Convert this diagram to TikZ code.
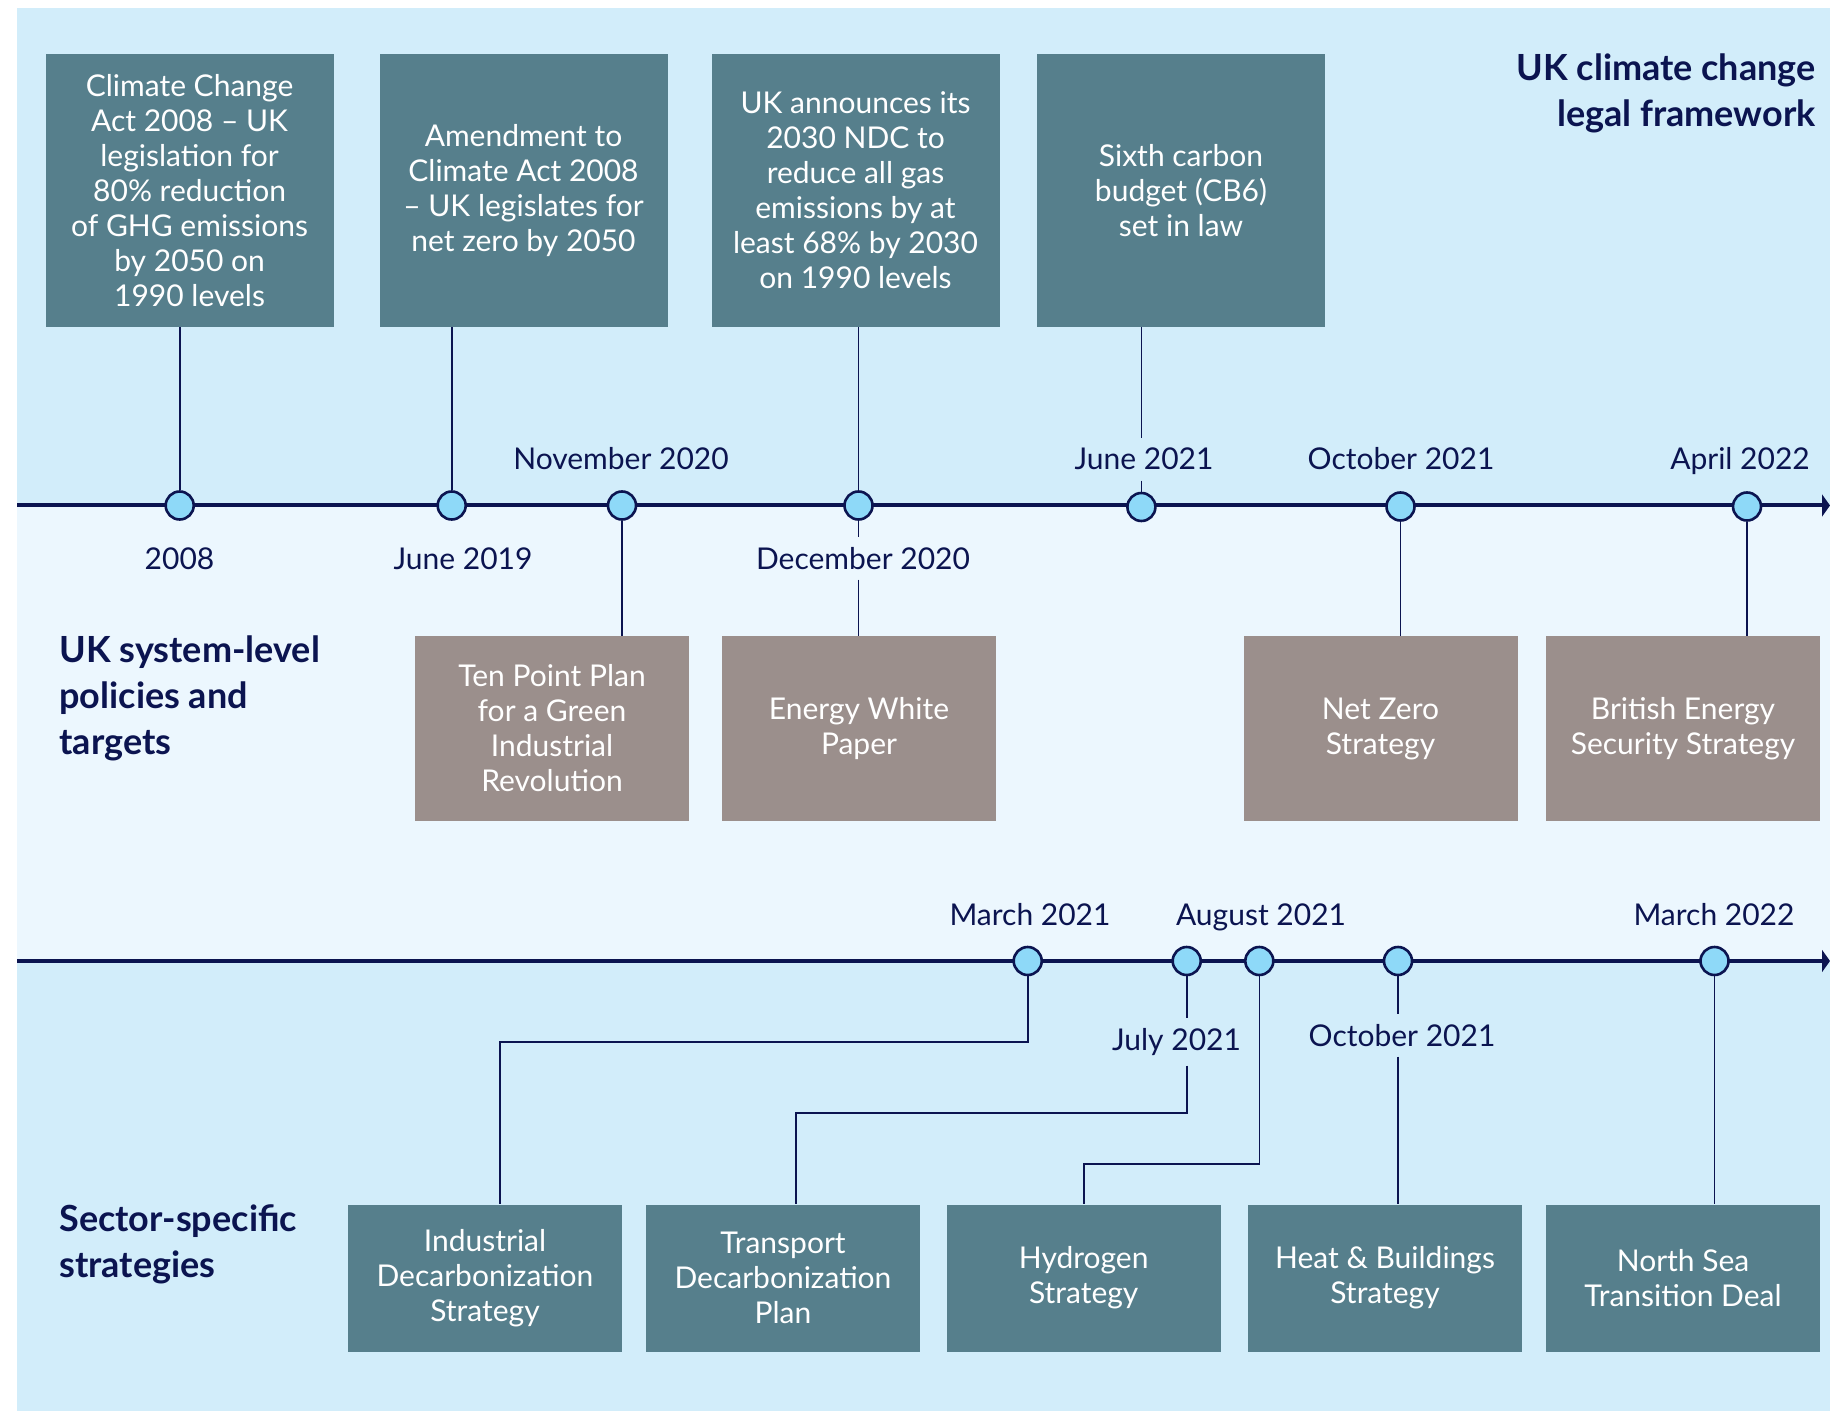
\documentclass[tikz,border=0pt]{standalone}
\usepackage{fontspec}
\setmainfont{Lato}
\usetikzlibrary{arrows.meta}
\definecolor{bandBlue}{RGB}{210,237,250}
\definecolor{bandPale}{RGB}{236,247,254}
\definecolor{navy}{RGB}{11,20,80}
\definecolor{dotFill}{RGB}{142,217,248}
\definecolor{tealBox}{RGB}{86,127,140}
\definecolor{greyBox}{RGB}{155,143,140}
\newcommand{\fs}[2]{\fontsize{#1}{#2}\selectfont}

\begin{document}
\begin{tikzpicture}[x=0.5pt,y=-0.5pt,
  law/.style ={fill=tealBox,text=white,align=center,inner sep=4pt,minimum width=144pt,minimum height=136.5pt,font=\fs{15}{17.5}},
  pol/.style ={fill=greyBox,text=white,align=center,inner sep=4pt,minimum width=137pt,minimum height=92.5pt,font=\fs{15}{17.5}},
  sec/.style ={fill=tealBox,text=white,align=center,inner sep=4pt,minimum width=137pt,minimum height=73.5pt,font=\fs{15}{17.5}},
  dot/.style ={circle,draw=navy,fill=dotFill,line width=1.3pt,minimum size=14pt,inner sep=0pt},
  date/.style={text=navy,inner sep=5pt,anchor=base,font=\fs{15}{18}},
  head/.style={text=navy,inner sep=0pt,font=\bfseries\fs{18}{23}},
  axis/.style={line width=2pt,navy,-{Triangle[length=4pt,width=11pt]}},
  stem/.style={line width=0.8pt,navy}]
\useasboundingbox (0,0) rectangle (1830,1411);
\fill[bandBlue] (17,8) rectangle (1830,505.5);
\fill[bandPale] (17,505.5) rectangle (1830,961);
\fill[bandBlue] (17,961) rectangle (1830,1411);

\node[head,align=right,anchor=east] (ttl) at (1816,93) {UK climate change\\legal framework};
\node[head,align=left,anchor=west] (sys) at (59,698) {UK system-level\\policies and\\targets};
\node[head,align=left,anchor=west] (sect) at (59,1244) {Sector-specific\\strategies};

\node[law] (cca) at (189.6,190.3) {Climate Change\\Act 2008 \textendash{} UK\\legislation for\\80\% reduction\\of GHG emissions\\by 2050 on\\1990 levels};
\node[law] (amd) at (523.5,190.3) {Amendment to\\Climate Act 2008\\\textendash{} UK legislates for\\net zero by 2050};
\node[law] (ndc) at (855.5,190.3) {UK announces its\\2030 NDC to\\reduce all gas\\emissions by at\\least 68\% by 2030\\on 1990 levels};
\node[law] (cb6) at (1181,190.3) {Sixth carbon\\budget (CB6)\\set in law};

\node[pol] (tpp) at (552,728.5) {Ten Point Plan\\for a Green\\Industrial\\Revolution};
\node[pol] (ewp) at (859,728.5) {Energy White\\Paper};
\node[pol] (nzs) at (1380.5,728.5) {Net Zero\\Strategy};
\node[pol] (bess) at (1683,728.5) {British Energy\\Security Strategy};

\node[sec] (ids) at (485,1278) {Industrial\\Decarbonization\\Strategy};
\node[sec] (tdp) at (783,1278) {Transport\\Decarbonization\\Plan};
\node[sec] (hyd) at (1083.7,1278) {Hydrogen\\Strategy};
\node[sec] (hbs) at (1385,1278) {Heat \& Buildings\\Strategy};
\node[sec] (nst) at (1683,1278) {North Sea\\Transition Deal};

\coordinate (upA) at (17,505.5);   \coordinate (upB) at (1830,505.5);
\coordinate (loA) at (17,961);     \coordinate (loB) at (1830,961);
\draw[axis] (upA) -- (upB);
\draw[axis] (loA) -- (loB);

\node[dot] (d2008) at (179.7,505.5) {};
\node[dot] (djun19) at (451.7,505.5) {};
\node[dot] (dnov20) at (622,505.5) {};
\node[dot] (ddec20) at (858.5,505.5) {};
\node[dot] (djun21) at (1141.4,507) {};
\node[dot] (doct21) at (1400.5,506.5) {};
\node[dot] (dapr22) at (1747,506.5) {};
\node[dot] (dmar21) at (1027.7,961) {};
\node[dot] (djul21) at (1186.7,961) {};
\node[dot] (daug21) at (1259.3,961) {};
\node[dot] (doct21b) at (1398,961) {};
\node[dot] (dmar22) at (1714.5,961) {};

\node[date] (l2008) at (179.5,569) {2008};
\node[date] (ljun19) at (463,569) {June 2019};
\node[date] (lnov20) at (621,470) {November 2020};
\node[date] (ldec20) at (863,569) {December 2020};
\node[date] (ljun21) at (1144,470) {June 2021};
\node[date] (loct21) at (1401,470) {October 2021};
\node[date] (lapr22) at (1740,470) {April 2022};
\node[date] (lmar21) at (1030,925) {March 2021};
\node[date] (ljul21) at (1176.5,1050) {July 2021};
\node[date] (laug21) at (1261,925) {August 2021};
\node[date] (loct21b) at (1402,1046) {October 2021};
\node[date] (lmar22) at (1714,925) {March 2022};

\draw[stem] (cca.south -| d2008) -- (d2008);
\draw[stem] (amd.south -| djun19) -- (djun19);
\draw[stem] (ndc.south -| ddec20) -- (ddec20);
\draw[stem] (cb6.south -| djun21) -- (djun21 |- ljun21.north);
\draw[stem] (djun21 |- ljun21.south) -- (djun21);
\draw[stem] (dnov20) -- (tpp.north -| dnov20);
\draw[stem] (ddec20) -- (ddec20 |- ldec20.north);
\draw[stem] (ddec20 |- ldec20.south) -- (ewp.north -| ddec20);
\draw[stem] (doct21) -- (nzs.north -| doct21);
\draw[stem] (dapr22) -- (bess.north -| dapr22);
\draw[stem] (dmar21) |- (500,1042) -- (ids.north -| 500,0);
\draw[stem] (djul21) -- (djul21 |- ljul21.north);
\draw[stem] (djul21 |- ljul21.south) |- (796,1113) -- (tdp.north -| 796,0);
\draw[stem] (daug21) |- (1084,1164) -- (hyd.north -| 1084,0);
\draw[stem] (doct21b) -- (doct21b |- loct21b.north);
\draw[stem] (doct21b |- loct21b.south) -- (hbs.north -| doct21b);
\draw[stem] (dmar22) -- (nst.north -| dmar22);
\end{tikzpicture}
\end{document}
